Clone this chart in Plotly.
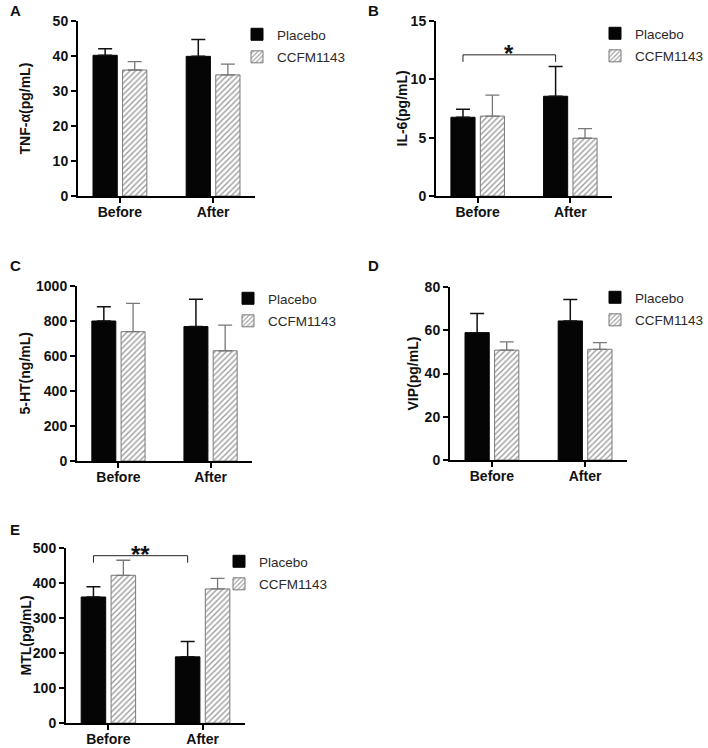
import plotly.graph_objects as go

W, H = 708, 748

categories = ["Before", "After"]
group_names = ["Placebo", "CCFM1143"]

# Panel A: TNF-α (pg/mL)
tnf_placebo = [40.2, 39.9]
tnf_placebo_err = [1.9, 4.8]
tnf_ccfm = [36.0, 34.6]
tnf_ccfm_err = [2.4, 3.1]

# Panel B: IL-6 (pg/mL)
il6_placebo = [6.75, 8.55]
il6_placebo_err = [0.68, 2.55]
il6_ccfm = [6.85, 4.95]
il6_ccfm_err = [1.8, 0.82]

# Panel C: 5-HT (ng/mL)
ht_placebo = [800, 768]
ht_placebo_err = [82, 156]
ht_ccfm = [739, 630]
ht_ccfm_err = [162, 147]

# Panel D: VIP (pg/mL)
vip_placebo = [58.9, 64.3]
vip_placebo_err = [8.8, 9.9]
vip_ccfm = [50.8, 51.2]
vip_ccfm_err = [3.8, 3.1]

# Panel E: MTL (pg/mL)
mtl_placebo = [360, 189]
mtl_placebo_err = [29, 44]
mtl_ccfm = [422, 383]
mtl_ccfm_err = [43, 30]

# significance brackets: (from category, to category, bracket level, label)
il6_sig = ("Before", "After", 12.1, "*")
mtl_sig = ("Before", "After", 478, "**")

y_titles = ["TNF-α(pg/mL)", "IL-6(pg/mL)", "5-HT(ng/mL)", "VIP(pg/mL)", "MTL(pg/mL)"]
y_max = [50, 15, 1000, 80, 500]
y_dtick = [10, 5, 200, 20, 100]
panel_letters = ["A", "B", "C", "D", "E"]

panels = [
    (tnf_placebo, tnf_placebo_err, tnf_ccfm, tnf_ccfm_err, None),
    (il6_placebo, il6_placebo_err, il6_ccfm, il6_ccfm_err, il6_sig),
    (ht_placebo, ht_placebo_err, ht_ccfm, ht_ccfm_err, None),
    (vip_placebo, vip_placebo_err, vip_ccfm, vip_ccfm_err, None),
    (mtl_placebo, mtl_placebo_err, mtl_ccfm, mtl_ccfm_err, mtl_sig),
]

# ---------- layout geometry (pixels) ----------
boxes = [  # x_left, x_right, y_top, y_bottom
    (78, 255, 21, 196),
    (436, 612, 21, 196),
    (77, 252, 286, 461),
    (450, 627, 287, 460),
    (66, 245, 548, 723),
]
legend_pos = [(237, 19), (595, 18), (228, 283), (595, 282), (219, 546)]
letter_pos = [(8, 11), (366, 11), (8, 265), (366, 265), (8, 529)]
title_x = [25, 402, 25, 413, 25]

FONT = "Arial, Liberation Sans, sans-serif"
BARGAP = 0.365
BARGROUPGAP = 0.18
XR = [-0.45, 1.45]

fig = go.Figure()
xpos = list(range(len(categories)))

for i, (pv, pe, cv, ce, sig) in enumerate(panels):
    n = i + 1
    xa = "x" if n == 1 else f"x{n}"
    ya = "y" if n == 1 else f"y{n}"
    leg = "legend" if n == 1 else f"legend{n}"
    fig.add_trace(go.Bar(
        x=xpos, y=pv, name=group_names[0], xaxis=xa, yaxis=ya, legend=leg,
        legendgroup=f"p{n}", offsetgroup="p",
        marker=dict(color="#050505", line=dict(color="#050505", width=1)),
        error_y=dict(type="data", array=pe, arrayminus=[0] * len(pe), symmetric=False,
                     color="#111111", thickness=1.5, width=7),
    ))
    fig.add_trace(go.Bar(
        x=xpos, y=cv, name=group_names[1], xaxis=xa, yaxis=ya, legend=leg,
        legendgroup=f"c{n}", offsetgroup="c",
        marker=dict(color="white", line=dict(color="#7a7a7a", width=1),
                    pattern=dict(shape="/", fgcolor="#3a3a3a", bgcolor="white",
                                 size=4, solidity=0.35)),
        error_y=dict(type="data", array=ce, arrayminus=[0] * len(ce), symmetric=False,
                     color="#777777", thickness=1.3, width=7),
    ))

    x0, x1, yt, yb = boxes[i]
    axis_common = dict(showline=True, linecolor="black", linewidth=2, ticks="outside",
                       ticklen=5, tickwidth=2, tickcolor="black", showgrid=False,
                       zeroline=False, automargin=False,
                       tickfont=dict(family=FONT, size=14, color="#111", weight="bold"))
    fig.layout[f"xaxis{'' if n == 1 else n}"] = dict(
        domain=[x0 / W, x1 / W], anchor=ya, range=XR, tickvals=xpos, ticktext=categories,
        fixedrange=True, ticklabelstandoff=-3, **axis_common)
    fig.layout[f"yaxis{'' if n == 1 else n}"] = dict(
        domain=[1 - yb / H, 1 - yt / H], anchor=xa, range=[0, y_max[i]], dtick=y_dtick[i],
        fixedrange=True, **axis_common)

    # y-axis title (rotated text beside the axis)
    fig.add_annotation(text=y_titles[i], xref="paper", yref="paper",
                       x=title_x[i] / W, y=1 - (yt + yb) / 2 / H, textangle=-90,
                       xanchor="center", yanchor="middle", showarrow=False,
                       font=dict(family=FONT, size=14, color="#111", weight="bold"))

    lx, ly = legend_pos[i]
    fig.layout[leg] = dict(x=lx / W, y=1 - ly / H, xanchor="left", yanchor="top",
                           xref="container", yref="container",
                           font=dict(family=FONT, size=13.5, color="#2a2a2a"),
                           bgcolor="rgba(0,0,0,0)", tracegroupgap=2, traceorder="grouped")

    px, py = letter_pos[i]
    fig.add_annotation(text=panel_letters[i], xref="paper", yref="paper",
                       x=px / W, y=1 - py / H, xanchor="left", yanchor="middle",
                       showarrow=False, font=dict(family=FONT, size=15, color="#111", weight="bold"))

    if sig is not None:
        c_from, c_to, level, label = sig
        group_w = 1 - BARGAP
        off = -group_w / 4  # centre of the placebo bar within its group
        xs = categories.index(c_from) + off
        xe = categories.index(c_to) + off
        drop = level - 7 * y_max[i] / (yb - yt)
        for (a, b, c, d) in [(xs, drop, xs, level), (xs, level, xe, level), (xe, level, xe, drop)]:
            fig.add_shape(type="line", xref=xa, yref=ya, x0=a, y0=b, x1=c, y1=d,
                          line=dict(color="#222", width=1))
        fig.add_annotation(text=label, xref=xa, yref=ya, x=(xs + xe) / 2, y=level,
                           xanchor="center", yanchor="bottom", showarrow=False, yshift=-14,
                           font=dict(family=FONT, size=24, color="#111", weight="bold"))

fig.update_layout(
    width=W, height=H, margin=dict(l=0, r=0, t=0, b=0, autoexpand=False),
    paper_bgcolor="white", plot_bgcolor="white",
    barmode="group", bargap=BARGAP, bargroupgap=BARGROUPGAP,
    font=dict(family=FONT),
    showlegend=True,
)

fig.write_html("out.html", config={"displayModeBar": False},
               post_script="document.body.style.margin='0px';document.body.style.overflow='hidden';")
